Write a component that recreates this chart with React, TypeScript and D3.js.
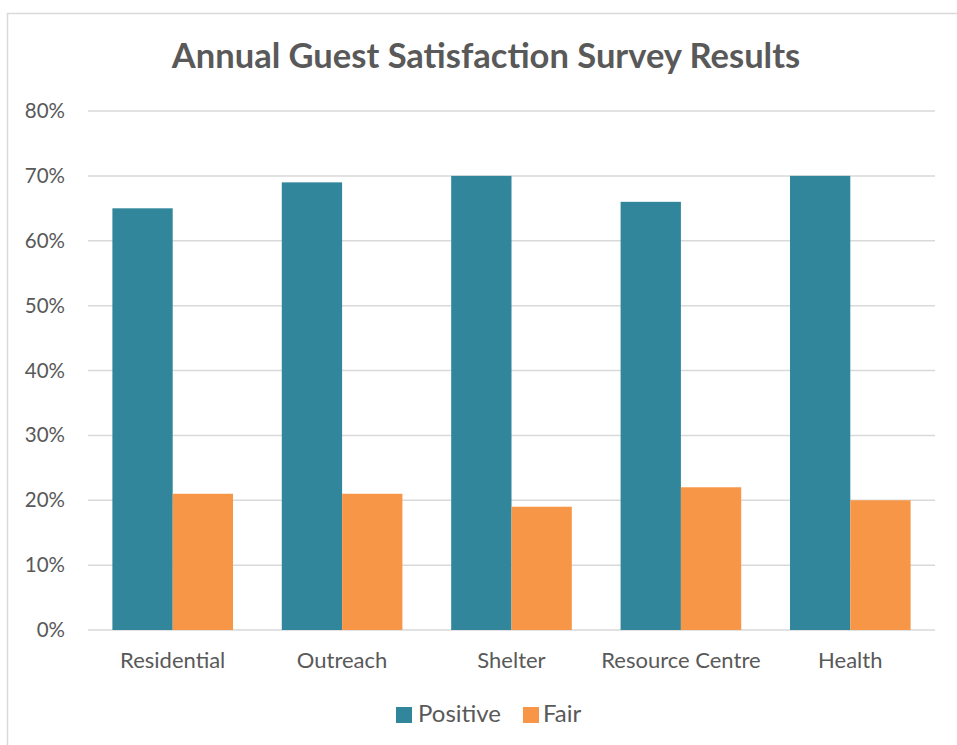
import React from "react";
import * as d3 from "d3";

const categories = ["Residential", "Outreach", "Shelter", "Resource Centre", "Health"];
const positive = [0.65, 0.69, 0.70, 0.66, 0.70];
const fair = [0.21, 0.21, 0.19, 0.22, 0.20];
const seriesNames = ["Positive", "Fair"];
const yTicks = [0, 0.1, 0.2, 0.3, 0.4, 0.5, 0.6, 0.7, 0.8];
const colors = ["#31869B", "#F79646"];

export default function App() {
  const W = 957, H = 745;
  const left = 88, right = 935, top = 111, bottom = 630;
  const font = "Lato, 'Open Sans', sans-serif";
  const x = d3.scaleBand<string>().domain(categories).range([left, right]).paddingInner(0.288).paddingOuter(0.144);
  const x1 = d3.scaleBand<string>().domain(seriesNames).range([0, x.bandwidth()]);
  const y = d3.scaleLinear().domain([0, 0.8]).range([bottom, top]);
  const series = [positive, fair];
  const fmt = d3.format(".0%");
  return (
    <svg width={W} height={H} style={{ position: "absolute", left: 0, top: 0, background: "#fff" }}>
      <rect x={7.5} y={13.5} width={W + 10} height={H + 10} fill="#fff" stroke="#D9D9D9" strokeWidth={1.5} />
      <text x={486} y={68} textAnchor="middle" fontFamily={font} fontWeight="bold" fontSize={34.5} fill="#595959">
        Annual Guest Satisfaction Survey Results
      </text>
      {yTicks.map((t) => (
        <g key={t}>
          <line x1={left} x2={right} y1={y(t)} y2={y(t)} stroke="#D9D9D9" strokeWidth={1.5} />
          <text x={65} y={y(t) + 7} textAnchor="end" fontFamily={font} fontSize={20.5} fill="#595959">
            {fmt(t)}
          </text>
        </g>
      ))}
      {categories.map((c, i) => (
        <g key={c}>
          {series.map((s, j) => (
            <rect
              key={j}
              x={(x(c) as number) + (x1(seriesNames[j]) as number)}
              y={y(s[i])}
              width={x1.bandwidth()}
              height={bottom - y(s[i])}
              fill={colors[j]}
            />
          ))}
          <text x={(x(c) as number) + x.bandwidth() / 2} y={668} textAnchor="middle" fontFamily={font} fontSize={22} fill="#595959">
            {c}
          </text>
        </g>
      ))}
      <rect x={396} y={707} width={16} height={16} fill={colors[0]} />
      <text x={418} y={722} fontFamily={font} fontSize={24} fill="#595959">{seriesNames[0]}</text>
      <rect x={523} y={707} width={16} height={16} fill={colors[1]} />
      <text x={543} y={722} fontFamily={font} fontSize={24} fill="#595959">{seriesNames[1]}</text>
    </svg>
  );
}
